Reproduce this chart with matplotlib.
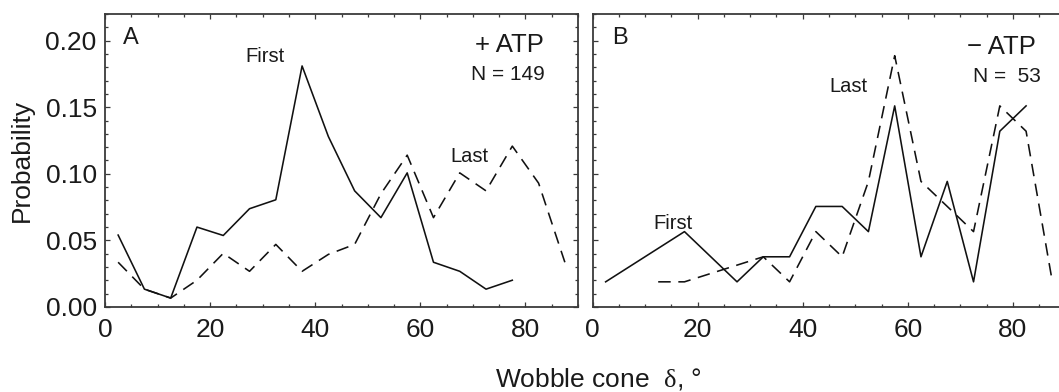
import matplotlib
matplotlib.use('Agg')
import matplotlib.pyplot as plt
from matplotlib.ticker import MultipleLocator, NullFormatter

plt.rcParams['font.family'] = ['Liberation Sans', 'DejaVu Sans']
plt.rcParams['mathtext.fontset'] = 'custom'
plt.rcParams['mathtext.rm'] = 'Liberation Serif'
plt.rcParams['lines.scale_dashes'] = False

# ---- data ----
a_first_x = [2.5, 7.5, 12.5, 17.5, 22.5, 27.5, 32.5, 37.5, 42.5, 47.5,
             52.5, 57.5, 62.5, 67.5, 72.5, 77.5]
a_first_y = [0.054, 0.0134, 0.0067, 0.060, 0.0537, 0.0738, 0.0805, 0.181,
             0.128, 0.0872, 0.0671, 0.1007, 0.0336, 0.0268, 0.0134, 0.0201]
a_last_x = [2.5, 7.5, 12.5, 17.5, 22.5, 27.5, 32.5, 37.5, 42.5, 47.5,
            52.5, 57.5, 62.5, 67.5, 72.5, 77.5, 82.5, 87.5]
a_last_y = [0.0336, 0.0134, 0.0067, 0.0201, 0.0403, 0.0268, 0.047, 0.0268,
            0.0395, 0.047, 0.085, 0.114, 0.0671, 0.1007, 0.0872, 0.1208,
            0.093, 0.0336]

b_first_x = [2.5, 17.5, 27.5, 32.5, 37.5, 42.5, 47.5, 52.5, 57.5, 62.5,
             67.5, 72.5, 77.5, 82.5]
b_first_y = [0.0189, 0.0566, 0.0189, 0.0377, 0.0377, 0.0755, 0.0755, 0.0566,
             0.151, 0.0377, 0.0943, 0.0189, 0.132, 0.151]
b_last_x = [12.5, 17.5, 32.5, 37.5, 42.5, 47.5, 52.5, 57.5, 62.5, 67.5,
            72.5, 77.5, 82.5, 87.5]
b_last_y = [0.0189, 0.0189, 0.0377, 0.0189, 0.0566, 0.0377, 0.0943, 0.1887,
            0.0943, 0.0755, 0.0566, 0.151, 0.132, 0.0189]

x_ticks = [0, 20, 40, 60, 80]
y_ticks = [0.00, 0.05, 0.10, 0.15, 0.20]
y_tick_labels = ['0.00', '0.05', '0.10', '0.15', '0.20']

TXT = '#1a1a1a'
SPINE = '#3a3a3a'
LINE = '#111111'

fig = plt.figure(figsize=(10.59, 3.92), dpi=100)
W, H = 1059.0, 392.0
bottom = (H - 307) / H
height = 293 / H
width = 473 / W
axA = fig.add_axes([105 / W, bottom, width, height])
axB = fig.add_axes([592.5 / W, bottom, width, height])

for ax in (axA, axB):
    ax.set_xlim(0, 90)
    ax.set_ylim(0, 0.22)
    ax.set_xticks(x_ticks)
    ax.set_yticks(y_ticks)
    ax.xaxis.set_minor_locator(MultipleLocator(5))
    ax.yaxis.set_minor_locator(MultipleLocator(0.01))
    ax.tick_params(which='both', direction='in', top=True, right=True,
                   color=SPINE, width=0.9, labelcolor=TXT, labelsize=19)
    ax.tick_params(which='major', length=3.8)
    ax.tick_params(which='minor', length=2.5)
    ax.tick_params(axis='x', which='major', pad=8)
    ax.tick_params(axis='y', which='major', pad=6)
    for s in ax.spines.values():
        s.set_color(SPINE)
        s.set_linewidth(1.3)

axA.set_yticklabels(y_tick_labels)
axB.yaxis.set_major_formatter(NullFormatter())

dash = (9, 5.5)
axA.plot(a_first_x, a_first_y, color=LINE, lw=1.15)
axA.plot(a_last_x, a_last_y, color=LINE, lw=1.15, linestyle=(0, dash))
axB.plot(b_first_x, b_first_y, color=LINE, lw=1.15)
axB.plot(b_last_x, b_last_y, color=LINE, lw=1.15, linestyle=(0, dash))

# annotations
axA.text(0.038, 0.955, 'A', transform=axA.transAxes, fontsize=17,
         color=TXT, va='top', ha='left')
axB.text(0.042, 0.955, 'B', transform=axB.transAxes, fontsize=17,
         color=TXT, va='top', ha='left')

axA.text(30.5, 0.184, 'First', fontsize=14.5, color=TXT, ha='center',
         va='baseline')
axA.text(69.3, 0.1085, 'Last', fontsize=14.5, color=TXT, ha='center',
         va='baseline')
axA.text(83.6, 0.1916, '+ ATP', fontsize=18.5, color=TXT, ha='right',
         va='baseline')
axA.text(83.6, 0.1705, 'N = 149', fontsize=15, color=TXT, ha='right',
         va='baseline')

axB.text(15.4, 0.0588, 'First', fontsize=14.5, color=TXT, ha='center',
         va='baseline')
axB.text(48.7, 0.1614, 'Last', fontsize=14.5, color=TXT, ha='center',
         va='baseline')
axB.text(84.4, 0.1900, '\u2212 ATP', fontsize=18.5, color=TXT, ha='right',
         va='baseline')
axB.text(85.4, 0.1690, 'N =  53', fontsize=15, color=TXT, ha='right',
         va='baseline')

axA.set_ylabel('Probability', fontsize=19, color=TXT)
axA.yaxis.set_label_coords(-(105 - 34) / 473, 0.5)

fig.text(598 / W, 1 - 387 / H, r'Wobble cone  $\mathrm{\delta}$, °',
         fontsize=19, color=TXT, ha='center', va='baseline')

fig.savefig('out.png', dpi=100)
